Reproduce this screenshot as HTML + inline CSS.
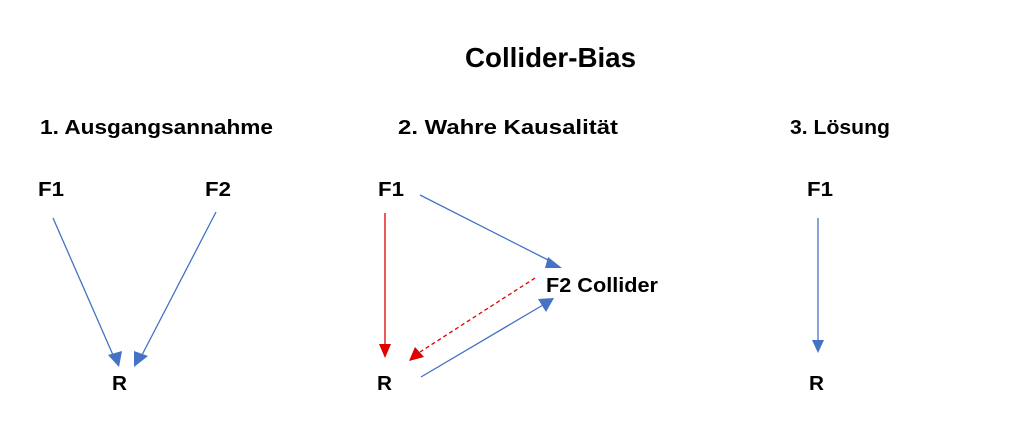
<!DOCTYPE html>
<html><head><meta charset="utf-8"><style>
html,body{margin:0;padding:0;background:#fff;}
svg{display:block;}
text{font-family:"Liberation Sans",sans-serif;font-weight:bold;fill:#000;}
</style></head><body>
<svg width="1024" height="446" viewBox="0 0 1024 446" xmlns="http://www.w3.org/2000/svg">
<defs>
<marker id="b" viewBox="0 0 10 10" refX="9" refY="5" markerWidth="5" markerHeight="5" orient="auto" markerUnits="userSpaceOnUse"><path d="M0,0 L10,5 L0,10 z" fill="#4472c4" transform="scale(1)"/></marker>
<marker id="r" viewBox="0 0 10 10" refX="9" refY="5" markerWidth="5" markerHeight="5" orient="auto" markerUnits="userSpaceOnUse"><path d="M0,0 L10,5 L0,10 z" fill="#e00000"/></marker>
</defs>
<style>
marker{overflow:visible}
</style>
<text x="465" y="67" font-size="28" textLength="171" lengthAdjust="spacingAndGlyphs">Collider-Bias</text>
<text x="40" y="134" font-size="20" textLength="233" lengthAdjust="spacingAndGlyphs">1.  Ausgangsannahme</text>
<text x="398" y="134" font-size="20" textLength="220" lengthAdjust="spacingAndGlyphs">2.   Wahre Kausalität</text>
<text x="790" y="134" font-size="20" textLength="100" lengthAdjust="spacingAndGlyphs">3. Lösung</text>

<text x="38" y="196" font-size="20" textLength="26" lengthAdjust="spacingAndGlyphs">F1</text>
<text x="205" y="196" font-size="20" textLength="26" lengthAdjust="spacingAndGlyphs">F2</text>
<text x="112" y="390" font-size="20" textLength="15" lengthAdjust="spacingAndGlyphs">R</text>

<text x="378" y="196" font-size="20" textLength="26" lengthAdjust="spacingAndGlyphs">F1</text>
<text x="546" y="292" font-size="20" textLength="112" lengthAdjust="spacingAndGlyphs">F2 Collider</text>
<text x="377" y="390" font-size="20" textLength="15" lengthAdjust="spacingAndGlyphs">R</text>

<text x="807" y="196" font-size="20" textLength="26" lengthAdjust="spacingAndGlyphs">F1</text>
<text x="809" y="390" font-size="20" textLength="15" lengthAdjust="spacingAndGlyphs">R</text>

<g stroke="#4472c4" stroke-width="1.3" fill="none">
<line x1="53" y1="218" x2="113" y2="355"/>
<line x1="216" y1="212" x2="142" y2="355"/>
<line x1="420" y1="195" x2="552" y2="262"/>
<line x1="421" y1="377" x2="543" y2="305"/>
<line x1="818" y1="218" x2="818" y2="340"/>
</g>
<g fill="#4472c4">
<polygon points="108,355 122,351 119,367"/>
<polygon points="134,351 148,356 134,367"/>
<polygon points="548,257 562,268 545,268"/>
<polygon points="538,299 554,298 546,312"/>
<polygon points="812,340 824,340 818,353"/>
</g>
<line x1="385" y1="213" x2="385" y2="345" stroke="#e00000" stroke-width="1.3"/>
<polygon points="379,344 391,344 385,358" fill="#e00000"/>
<line x1="535" y1="278" x2="420" y2="352" stroke="#e00000" stroke-width="1.3" stroke-dasharray="4,3"/>
<polygon points="409,361 415,347 424,357" fill="#e00000"/>
</svg>
</body></html>
